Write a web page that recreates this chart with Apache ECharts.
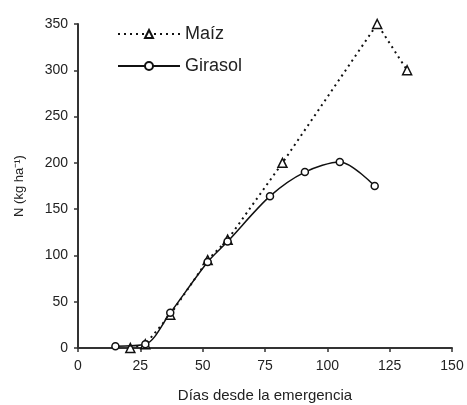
<!DOCTYPE html>
<html><head><meta charset="utf-8">
<script src="https://cdn.jsdelivr.net/npm/echarts@6/dist/echarts.min.js"></script>
<style>html,body{margin:0;padding:0;background:#fff}#c{width:467px;height:405px}</style>
</head><body><div id="c"></div>
<script>
const maizDays = [21, 27, 37, 52, 60, 82, 120, 132];
const maizN    = [0, 4, 36, 95, 117, 200, 350, 300];
const girasolDays = [15, 27, 37, 52, 60, 77, 91, 105, 119];
const girasolN    = [2, 4, 38, 93, 115, 164, 190, 201, 175];
const xTicks = [0, 25, 50, 75, 100, 125, 150];
const yTicks = [0, 50, 100, 150, 200, 250, 300, 350];

const pair = (xs, ys) => xs.map((x, i) => [x, ys[i]]);
const axisCol = '#333';
const font = 'Liberation Sans, Arial, sans-serif';
const chart = echarts.init(document.getElementById('c'), null, {renderer: 'canvas'});
chart.setOption({
  animation: false,
  backgroundColor: '#fff',
  grid: {left: 78, right: 15, top: 24, bottom: 57, containLabel: false, outerBoundsMode: 'none'},
  legend: {
    orient: 'vertical', left: 112, top: 20, itemGap: 14,
    itemWidth: 62, itemHeight: 10,
    textStyle: {fontFamily: font, fontSize: 18, color: '#222', padding: [0, 0, 0, 0]},
    data: ['Maíz', 'Girasol']
  },
  xAxis: {
    type: 'value', min: 0, max: 150, interval: 25,
    name: 'Días desde la emergencia', nameLocation: 'middle', nameGap: 40,
    nameTextStyle: {fontFamily: font, fontSize: 15, color: '#222'},
    axisLine: {show: true, lineStyle: {color: axisCol, width: 2}},
    axisTick: {show: true, inside: false, length: 4, lineStyle: {color: axisCol, width: 1.5}},
    axisLabel: {fontFamily: font, fontSize: 14, color: '#222', margin: 11,
      formatter: v => xTicks.includes(v) ? String(v) : ''},
    splitLine: {show: false}
  },
  yAxis: {
    type: 'value', min: 0, max: 350, interval: 50,
    name: 'N (kg ha⁻¹)', nameLocation: 'middle', nameGap: 52, nameRotate: 90,
    nameTextStyle: {fontFamily: font, fontSize: 13, color: '#222'},
    axisLine: {show: true, lineStyle: {color: axisCol, width: 2}},
    axisTick: {show: true, inside: false, length: 4, lineStyle: {color: axisCol, width: 1.5}},
    axisLabel: {fontFamily: font, fontSize: 14, color: '#222', margin: 10,
      formatter: v => yTicks.includes(v) ? String(v) : ''},
    splitLine: {show: false}
  },
  series: [
    {
      name: 'Maíz', type: 'line', data: pair(maizDays, maizN),
      symbol: 'triangle', symbolSize: 9, showAllSymbol: true, smooth: false,
      lineStyle: {color: '#111', width: 2, type: [2, 4]},
      itemStyle: {color: '#fff', borderColor: '#111', borderWidth: 1.5},
      z: 2
    },
    {
      name: 'Girasol', type: 'line', data: pair(girasolDays, girasolN),
      symbol: 'circle', symbolSize: 7, showAllSymbol: true, smooth: 0.3,
      lineStyle: {color: '#111', width: 1.5, type: 'solid'},
      itemStyle: {color: '#fff', borderColor: '#111', borderWidth: 1.5},
      z: 3
    }
  ]
});
</script></body></html>
